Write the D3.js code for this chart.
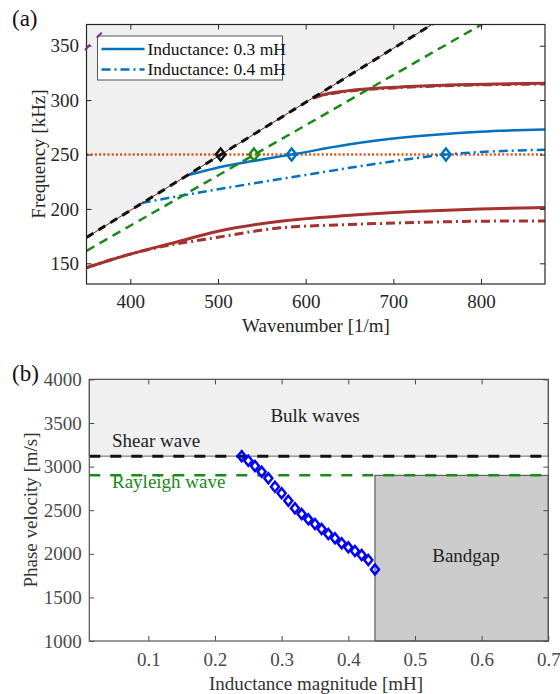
<!DOCTYPE html>
<html>
<head>
<meta charset="utf-8">
<script src="https://cdn.jsdelivr.net/npm/d3@7"></script>
<style>
  body { margin: 0; background: #fff; }
  svg text { font-family: "Liberation Serif", "Times New Roman", serif; }
</style>
</head>
<body>
<svg id="chart" width="560" height="694" font-family="Liberation Serif"></svg>
<script>
// ---- panel (a) data: wavenumber [1/m] vs frequency [kHz]
var xTicksA = [400, 500, 600, 700, 800];
var yTicksA = [150, 200, 250, 300, 350];
var shearLine = [[350, 173.8], [760, 377.4]];
var rayleighLine = [[350, 161.5], [820, 378.5]];
var purpleLine = [[348.3, 346.1], [367.3, 362]];
var refFreq = [[350, 250], [873, 250]];
var blue03 = [[465, 231], [480, 234], [503, 238.5], [540, 244], [571, 248.3], [584, 250],
  [647, 259], [723, 266.5], [799, 271], [873, 273]];
var blue04 = [[413, 205.5], [450, 211], [500, 218], [550, 224.8], [600, 231.2], [650, 237.8],
  [700, 243.8], [760, 250], [800, 252.3], [840, 253.7], [873, 254.3]];
var redLow03 = [[350, 146], [400, 158.5], [450, 169], [500, 179.5], [571, 188.7], [647, 194],
  [723, 197.6], [799, 200], [873, 201.2]];
var redLow04 = [[350, 146], [400, 158.5], [450, 167.5], [480, 171.4], [500, 174], [571, 182.6],
  [647, 185.6], [723, 187.5], [799, 188.7], [873, 189]];
var redUp03 = [[608, 302], [620, 305], [647, 308.5], [700, 311.8], [760, 313.8], [820, 314.9], [873, 315.5]];
var redUp04 = [[608, 302], [620, 304.5], [647, 308], [700, 311.2], [760, 313.2], [820, 314.3], [873, 314.8]];
var markersA = [
  {k: 503, f: 250, c: "#111"},
  {k: 541, f: 250, c: "#1a8a1a"},
  {k: 584, f: 250, c: "#0072BD"},
  {k: 760, f: 250, c: "#0072BD"}
];
var legendA = ["Inductance: 0.3 mH", "Inductance: 0.4 mH"];

// ---- panel (b) data: inductance [mH] vs phase velocity [m/s]
var xTicksB = [0.1, 0.2, 0.3, 0.4, 0.5, 0.6, 0.7];
var yTicksB = [1000, 1500, 2000, 2500, 3000, 3500, 4000];
var shearVel = 3120;
var rayleighVel = 2900;
var bandgapStart = 0.44;
var inductance = [0.24, 0.25, 0.26, 0.27, 0.28, 0.29, 0.30, 0.31, 0.32, 0.33, 0.34,
  0.35, 0.36, 0.37, 0.38, 0.39, 0.40, 0.41, 0.42, 0.43, 0.44];
var phaseVel = [3120, 3068, 3007, 2942, 2866, 2770, 2694, 2609, 2522, 2456, 2395,
  2342, 2284, 2227, 2178, 2120, 2074, 2032, 1986, 1929, 1820];

var svg = d3.select("#chart");
var axisColA = "#262626";
var fontSize = 19;
var serif = "'Liberation Serif', 'Times New Roman', serif";

function styleAxis(g, col) {
  g.attr("font-family", serif).attr("font-size", fontSize);
  g.select(".domain").remove();
  g.selectAll("line").attr("stroke", col);
  g.selectAll("text").attr("fill", col).style("font-size", fontSize + "px")
    .style("font-family", serif);
}

function diamond(g, x, y, col, r, w) {
  g.append("path")
    .attr("d", "M" + x + "," + (y - r) + "L" + (x + r * 0.8) + "," + y + "L" + x + "," + (y + r) +
      "L" + (x - r * 0.8) + "," + y + "Z")
    .attr("fill", "none").attr("stroke", col).attr("stroke-width", w);
}

// ================= panel (a)
var xA = d3.scaleLinear().domain([350, 873]).range([86.5, 545]);
var yA = d3.scaleLinear().domain([131, 369.5]).range([284, 24.5]);

svg.append("clipPath").attr("id", "clipA").append("rect")
  .attr("x", xA.range()[0]).attr("y", yA.range()[1])
  .attr("width", xA.range()[1] - xA.range()[0]).attr("height", yA.range()[0] - yA.range()[1]);

var gA = svg.append("g");
var plotA = gA.append("g").attr("clip-path", "url(#clipA)");

// bulk region above the shear line
var bulkPoly = [shearLine[0], shearLine[1], [shearLine[0][0], shearLine[1][1]]];
plotA.append("path")
  .attr("d", "M" + bulkPoly.map(function(p) { return xA(p[0]) + "," + yA(p[1]); }).join("L") + "Z")
  .attr("fill", "#f0f0f0");

var lineA = d3.line().x(function(d) { return xA(d[0]); }).y(function(d) { return yA(d[1]); });
var curveA = d3.line().curve(d3.curveMonotoneX)
  .x(function(d) { return xA(d[0]); }).y(function(d) { return yA(d[1]); });

function drawA(g, data, gen, col, w, dash) {
  g.append("path").attr("d", gen(data)).attr("fill", "none")
    .attr("stroke", col).attr("stroke-width", w).attr("stroke-dasharray", dash || null);
}

drawA(plotA, refFreq, lineA, "#D95319", 2.5, "2,2.2");
drawA(plotA, redLow04, curveA, "#a4322f", 3, "9,4,2,4");
drawA(plotA, redLow03, curveA, "#a4322f", 3);
drawA(plotA, redUp04, curveA, "#a4322f", 3, "9,4,2,4");
drawA(plotA, redUp03, curveA, "#a4322f", 3);
drawA(plotA, blue04, curveA, "#0072BD", 2.5, "9,4,2,4");
drawA(plotA, blue03, curveA, "#0072BD", 2.5);
drawA(plotA, rayleighLine, lineA, "#1a8a1a", 2.5, "9,6");
drawA(plotA, shearLine, lineA, "#6b2020", 1);
drawA(plotA, shearLine, lineA, "#111", 3, "8,6");

markersA.forEach(function(m) { diamond(plotA, xA(m.k), yA(m.f), m.c, 6, 2.4); });

// axes (a)
gA.append("g").attr("transform", "translate(0," + yA.range()[0] + ")")
  .call(d3.axisBottom(xA).tickValues(xTicksA).tickSizeInner(-5).tickSizeOuter(0).tickPadding(11))
  .call(styleAxis, axisColA);
gA.append("g").attr("transform", "translate(0," + yA.range()[1] + ")")
  .call(d3.axisTop(xA).tickValues(xTicksA).tickSizeInner(-5).tickSizeOuter(0).tickFormat(""))
  .call(styleAxis, axisColA);
gA.append("g").attr("transform", "translate(" + xA.range()[0] + ",0)")
  .call(d3.axisLeft(yA).tickValues(yTicksA).tickSizeInner(-5).tickSizeOuter(0).tickPadding(7.5))
  .call(styleAxis, axisColA);
gA.append("g").attr("transform", "translate(" + xA.range()[1] + ",0)")
  .call(d3.axisRight(yA).tickValues(yTicksA).tickSizeInner(-5).tickSizeOuter(0).tickFormat(""))
  .call(styleAxis, axisColA);
gA.append("rect")
  .attr("x", xA.range()[0]).attr("y", yA.range()[1])
  .attr("width", xA.range()[1] - xA.range()[0]).attr("height", yA.range()[0] - yA.range()[1])
  .attr("fill", "none").attr("stroke", axisColA).attr("stroke-width", 1.2);

// legend (a)
var leg = gA.append("g").attr("transform", "translate(97.5,36)");
leg.append("rect").attr("width", 185).attr("height", 44)
  .attr("fill", "#fff").attr("stroke", "#555").attr("stroke-width", 1);
legendA.forEach(function(t, i) {
  var y = 13 + i * 20.5;
  leg.append("line").attr("x1", 4).attr("x2", 47).attr("y1", y).attr("y2", y)
    .attr("stroke", "#0072BD").attr("stroke-width", 2.5)
    .attr("stroke-dasharray", i ? "9,4,2,4" : null);
  leg.append("text").attr("x", 50).attr("y", y).attr("dy", "0.33em")
    .style("font-size", "17.5px").attr("fill", "#111").text(t);
});

// short purple segment poking out at the top-left corner
drawA(gA, purpleLine, lineA, "#7E2F8E", 2, "7.5,9.5");

gA.append("text").attr("x", 316).attr("y", 332).attr("text-anchor", "middle")
  .style("font-size", fontSize + "px").attr("fill", axisColA).text("Wavenumber [1/m]");
gA.append("text").attr("transform", "translate(45,154) rotate(-90)").attr("text-anchor", "middle")
  .style("font-size", fontSize + "px").attr("fill", axisColA).text("Frequency [kHz]");
gA.append("text").attr("x", 12).attr("y", 26).style("font-size", "23px").attr("fill", "#111").text("(a)");

// ================= panel (b)
var axisColB = "#4a4a4a";
var xB = d3.scaleLinear().domain([0.0115, 0.7]).range([89.3, 548.3]);
var yB = d3.scaleLinear().domain([1000, 4000]).range([641, 379.4]);
var gB = svg.append("g");

gB.append("rect")
  .attr("x", xB.range()[0]).attr("y", yB(4000))
  .attr("width", xB.range()[1] - xB.range()[0]).attr("height", yB(shearVel) - yB(4000))
  .attr("fill", "#f0f0f0").attr("stroke", "#666").attr("stroke-width", 1);
gB.append("rect")
  .attr("x", xB(bandgapStart)).attr("y", yB(rayleighVel))
  .attr("width", xB(0.7) - xB(bandgapStart)).attr("height", yB(1000) - yB(rayleighVel))
  .attr("fill", "#cccccc").attr("stroke", "#444").attr("stroke-width", 1);

gB.append("line").attr("x1", xB.range()[0]).attr("x2", xB.range()[1])
  .attr("y1", yB(shearVel)).attr("y2", yB(shearVel))
  .attr("stroke", "#111").attr("stroke-width", 3).attr("stroke-dasharray", "11,10");
gB.append("line").attr("x1", xB.range()[0]).attr("x2", xB.range()[1])
  .attr("y1", yB(rayleighVel)).attr("y2", yB(rayleighVel))
  .attr("stroke", "#1a8a1a").attr("stroke-width", 2.5).attr("stroke-dasharray", "11,10");

inductance.forEach(function(L, i) {
  diamond(gB, xB(L), yB(phaseVel[i]), "#0000ff", 5, 2.5);
});

gB.append("g").attr("transform", "translate(0," + yB.range()[0] + ")")
  .call(d3.axisBottom(xB).tickValues(xTicksB).tickFormat(d3.format(".1f"))
    .tickSizeInner(-5).tickSizeOuter(0).tickPadding(12))
  .call(styleAxis, axisColB);
gB.append("g").attr("transform", "translate(0," + yB.range()[1] + ")")
  .call(d3.axisTop(xB).tickValues(xTicksB.slice(0, -1)).tickSizeInner(-5).tickSizeOuter(0).tickFormat(""))
  .call(styleAxis, axisColB);
gB.append("g").attr("transform", "translate(" + xB.range()[0] + ",0)")
  .call(d3.axisLeft(yB).tickValues(yTicksB).tickFormat(d3.format("d"))
    .tickSizeInner(-5).tickSizeOuter(0).tickPadding(7.5))
  .call(styleAxis, axisColB);
gB.append("g").attr("transform", "translate(" + xB.range()[1] + ",0)")
  .call(d3.axisRight(yB).tickValues(yTicksB).tickSizeInner(-5).tickSizeOuter(0).tickFormat(""))
  .call(styleAxis, axisColB);
gB.append("rect")
  .attr("x", xB.range()[0]).attr("y", yB.range()[1])
  .attr("width", xB.range()[1] - xB.range()[0]).attr("height", yB.range()[0] - yB.range()[1])
  .attr("fill", "none").attr("stroke", "#555").attr("stroke-width", 1.2);

gB.append("text").attr("x", 315).attr("y", 422).attr("text-anchor", "middle")
  .style("font-size", fontSize + "px").attr("fill", "#222").text("Bulk waves");
gB.append("text").attr("x", 112).attr("y", 447)
  .style("font-size", fontSize + "px").attr("fill", "#222").text("Shear wave");
gB.append("text").attr("x", 112).attr("y", 488)
  .style("font-size", fontSize + "px").attr("fill", "#1a8a1a").text("Rayleigh wave");
gB.append("text").attr("x", 466).attr("y", 562).attr("text-anchor", "middle")
  .style("font-size", fontSize + "px").attr("fill", "#222").text("Bandgap");

gB.append("text").attr("x", 316).attr("y", 690).attr("text-anchor", "middle")
  .style("font-size", fontSize + "px").attr("fill", "#333").text("Inductance magnitude [mH]");
gB.append("text").attr("transform", "translate(37,510) rotate(-90)").attr("text-anchor", "middle")
  .style("font-size", fontSize + "px").attr("fill", "#333").text("Phase velocity [m/s]");
gB.append("text").attr("x", 12).attr("y", 381).style("font-size", "23px").attr("fill", "#111").text("(b)");
</script>
</body>
</html>
